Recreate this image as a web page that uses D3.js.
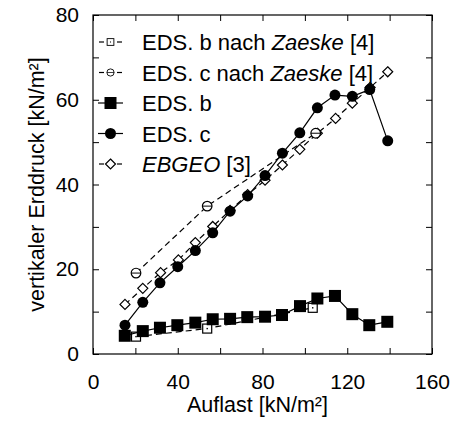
<!DOCTYPE html>
<html><head><meta charset="utf-8">
<script src="https://cdn.jsdelivr.net/npm/d3@7"></script>
<style>body{margin:0;background:#fff}svg{display:block}text{font-family:"Liberation Sans",Arial,sans-serif;fill:#000}</style>
</head><body>
<svg id="c" width="456" height="421"></svg>
<script>
// Data
const xB = [15, 23.5, 31.6, 39.8, 48.3, 56.5, 64.7, 72.8, 81.2, 89.2, 97.7, 105.9, 114.2, 122.4, 130.4, 138.9];
const edsB = [4.3, 5.4, 6.2, 6.8, 7.4, 8.2, 8.3, 8.7, 8.8, 9.2, 11.3, 13.1, 13.7, 9.4, 6.8, 7.6];
const xC = [15.1, 23.5, 31.6, 40.0, 48.3, 56.5, 64.7, 73.0, 81.2, 89.4, 97.6, 105.9, 114.2, 122.4, 130.6, 139.1];
const edsC = [6.8, 12.2, 16.8, 20.6, 24.4, 28.6, 33.7, 37.3, 42.1, 47.4, 52.2, 58.1, 61.1, 60.8, 62.4, 50.3];
const xE = [15.1, 23.5, 31.9, 40.3, 48.3, 56.5, 64.7, 73.0, 81.2, 89.4, 97.6, 105.9, 114.5, 122.4, 130.8, 139.1];
const ebgeo = [11.7, 15.5, 19.2, 22.2, 26.3, 30.1, 33.9, 37.6, 41.0, 44.6, 48.3, 52.1, 55.6, 59.2, 62.9, 66.6];
const xZ = [20.3, 53.9, 105.1];
const zaeskeC = [19.1, 34.9, 52.1];
const xZb = [20.3, 53.9, 103.7];
const zaeskeB = [4.1, 6.0, 10.9];
const xTicks = [0, 20, 40, 60, 80, 100, 120, 140, 160];
const yTicks = [0, 10, 20, 30, 40, 50, 60, 70, 80];
const xLabel = "Auflast [kN/m²]";
const yLabel = "vertikaler Erddruck [kN/m²]";

const svg = d3.select("#c");
const L = 93, R = 432, T = 15, B = 354;
const x = d3.scaleLinear().domain([0, 160]).range([L, R]);
const y = d3.scaleLinear().domain([0, 80]).range([B, T]);
const FS = 21, FL = 22;

function styleAxis(g) {
  g.select(".domain").remove();
  g.selectAll(".tick line").attr("stroke", "#000").attr("stroke-width", 1);
  g.selectAll("text").style("font-size", FS + "px").attr("fill", "#000");
}
svg.append("g").attr("transform", `translate(0,${B})`)
  .call(d3.axisBottom(x).tickValues(xTicks).tickSizeInner(-6).tickSizeOuter(0).tickPadding(20)
    .tickFormat(d => d % 40 === 0 ? d : "")).call(styleAxis);
svg.append("g").attr("transform", `translate(0,${T})`)
  .call(d3.axisTop(x).tickValues(xTicks).tickSizeInner(-6).tickSizeOuter(0).tickFormat("")).call(styleAxis);
svg.append("g").attr("transform", `translate(${L},0)`)
  .call(d3.axisLeft(y).tickValues(yTicks).tickSizeInner(-6).tickSizeOuter(0).tickPadding(14)
    .tickFormat(d => d % 20 === 0 ? d : "")).call(styleAxis);
svg.append("g").attr("transform", `translate(${R},0)`)
  .call(d3.axisRight(y).tickValues(yTicks).tickSizeInner(-6).tickSizeOuter(0).tickFormat("")).call(styleAxis);
svg.append("rect").attr("x", L).attr("y", T).attr("width", R - L).attr("height", B - T)
  .attr("fill", "none").attr("stroke", "#000").attr("stroke-width", 1.2);

svg.append("text").attr("x", (L + R) / 2 - 5).attr("y", 412).attr("text-anchor", "middle")
  .style("font-size", "21.5px").text(xLabel);
svg.append("text").attr("transform", `translate(44,${(T + B) / 2}) rotate(-90)`).attr("text-anchor", "middle")
  .style("font-size", "21.5px").text(yLabel);

const line = d3.line().x(d => x(d[0])).y(d => y(d[1]));
const zip = (a, b) => a.map((v, i) => [v, b[i]]);
const DASH = "6,4";

function marker(g, type, cx, cy) {
  if (type === "sqF") g.append("rect").attr("x", cx - 6).attr("y", cy - 6).attr("width", 12).attr("height", 12).attr("fill", "#000");
  else if (type === "cirF") g.append("circle").attr("cx", cx).attr("cy", cy).attr("r", 5.5).attr("fill", "#000");
  else if (type === "sqO") {
    g.append("rect").attr("x", cx - 4.5).attr("y", cy - 4.5).attr("width", 9).attr("height", 9).attr("fill", "#fff").attr("stroke", "#000").attr("stroke-width", 1.2);
    g.append("rect").attr("x", cx - 0.7).attr("y", cy - 0.7).attr("width", 1.4).attr("height", 1.4).attr("fill", "#000");
  } else if (type === "cirO") {
    g.append("circle").attr("cx", cx).attr("cy", cy).attr("r", 4.8).attr("fill", "#fff").attr("stroke", "#000").attr("stroke-width", 1.2);
    g.append("line").attr("x1", cx - 4.8).attr("x2", cx + 4.8).attr("y1", cy).attr("y2", cy).attr("stroke", "#000").attr("stroke-width", 1);
  } else if (type === "dia") {
    g.append("path").attr("d", `M${cx},${cy - 5}L${cx + 5},${cy}L${cx},${cy + 5}L${cx - 5},${cy}Z`).attr("fill", "#fff").attr("stroke", "#000").attr("stroke-width", 1.2);
  }
}

const series = [
  {name: ["EDS. b nach ", "Zaeske", " [4]"], xs: xZb, ys: zaeskeB, dash: DASH, m: "sqO"},
  {name: ["EDS. c nach ", "Zaeske", " [4]"], xs: xZ, ys: zaeskeC, dash: DASH, m: "cirO"},
  {name: ["EDS. b"], xs: xB, ys: edsB, dash: null, m: "sqF"},
  {name: ["EDS. c"], xs: xC, ys: edsC, dash: null, m: "cirF"},
  {name: ["", "EBGEO", " [3]"], xs: xE, ys: ebgeo, dash: DASH, m: "dia"}
];
const drawOrder = [4, 1, 0, 3, 2];
drawOrder.forEach(i => {
  const s = series[i];
  const g = svg.append("g");
  g.append("path").attr("d", line(zip(s.xs, s.ys))).attr("fill", "none").attr("stroke", "#000")
    .attr("stroke-width", 1.2).attr("stroke-dasharray", s.dash);
  s.xs.forEach((v, j) => marker(g, s.m, x(v), y(s.ys[j])));
});

// Legend
const lg = svg.append("g");
series.forEach((s, i) => {
  const yy = 42 + i * 30.5;
  const g = lg.append("g");
  if (s.dash) {
    g.append("line").attr("x1", 99).attr("x2", 104).attr("y1", yy).attr("y2", yy).attr("stroke", "#000").attr("stroke-width", 1.2);
    g.append("line").attr("x1", 117).attr("x2", 122).attr("y1", yy).attr("y2", yy).attr("stroke", "#000").attr("stroke-width", 1.2);
  } else {
    g.append("line").attr("x1", 98).attr("x2", 123).attr("y1", yy).attr("y2", yy).attr("stroke", "#000").attr("stroke-width", 1.2);
  }
  const mg = g.append("g").attr("transform", `translate(110.5,${yy}) scale(${s.m === "sqO" || s.m === "cirO" ? 0.75 : 1}) translate(-110.5,${-yy})`);
  marker(mg, s.m, 110.5, yy);
  const t = g.append("text").attr("x", 142).attr("y", yy + 8).style("font-size", FL + "px");
  t.append("tspan").text(s.name[0]);
  if (s.name[1]) t.append("tspan").style("font-style", "italic").text(s.name[1]);
  if (s.name[2]) t.append("tspan").text(s.name[2]);
});
</script>
</body></html>
